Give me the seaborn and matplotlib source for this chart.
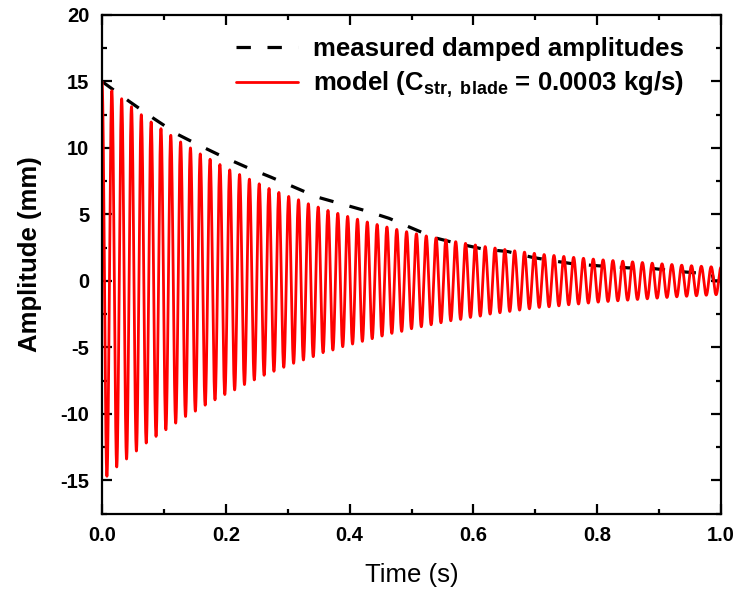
import numpy as np
import matplotlib
matplotlib.use("Agg")
import matplotlib.pyplot as plt
from matplotlib.ticker import MultipleLocator
import seaborn as sns

# ---- data ----
measured_time = [0.0, 0.044, 0.084, 0.123, 0.157, 0.197, 0.236, 0.273, 0.313, 0.348,
                 0.386, 0.424, 0.464, 0.499, 0.537, 0.575, 0.615, 0.656, 0.696, 0.730,
                 0.761, 0.803, 0.850, 0.890, 0.939, 0.979, 0.986, 0.988, 1.0]
measured_amp = [15.0, 13.5, 12.2, 11.0, 10.2, 9.3, 8.5, 7.8, 7.0, 6.3,
                5.8, 5.3, 4.7, 4.0, 3.25, 2.8, 2.4, 2.2, 1.76, 1.5,
                1.28, 1.13, 0.98, 0.93, 0.68, 0.53, 0.5, 0.0, 0.0]

model_cycles_per_s = 63
# peak (positive) amplitude of each model cycle
model_peaks = [15.0, 14.3, 13.7, 13.1, 12.5, 11.95, 11.45, 10.95, 10.45, 10.0,
               9.55, 9.15, 8.75, 8.35, 8.0, 7.65, 7.3, 6.95, 6.65, 6.35,
               6.1, 5.8, 5.55, 5.3, 5.08, 4.85, 4.64, 4.43, 4.24, 4.05,
               3.87, 3.7, 3.54, 3.38, 3.23, 3.09, 2.95, 2.82, 2.7, 2.58,
               2.47, 2.36, 2.26, 2.16, 2.07, 1.98, 1.91, 1.84, 1.77, 1.7,
               1.64, 1.58, 1.53, 1.48, 1.43, 1.38, 1.33, 1.28, 1.23, 1.18,
               1.14, 1.1, 1.06, 1.02]
# trough (negative) magnitude after each peak
model_troughs = [14.7, 14.0, 13.4, 12.8, 12.2, 11.7, 11.2, 10.7, 10.2, 9.8,
                 9.35, 8.95, 8.55, 8.2, 7.8, 7.45, 7.1, 6.8, 6.5, 6.2,
                 5.95, 5.7, 5.4, 5.2, 4.95, 4.75, 4.55, 4.35, 4.15, 3.95,
                 3.8, 3.6, 3.45, 3.3, 3.15, 3.0, 2.9, 2.75, 2.65, 2.5,
                 2.4, 2.3, 2.2, 2.1, 2.0, 1.95, 1.88, 1.8, 1.74, 1.67,
                 1.6, 1.55, 1.5, 1.45, 1.4, 1.35, 1.3, 1.25, 1.2, 1.16,
                 1.12, 1.08, 1.04]

x_ticks = [0.0, 0.2, 0.4, 0.6, 0.8, 1.0]
y_ticks = [-15, -10, -5, 0, 5, 10, 15, 20]

# ---- build smooth model curve through the read extrema ----
ext_vals = []
for k in range(len(model_troughs)):
    ext_vals += [model_peaks[k], -model_troughs[k]]
ext_vals.append(model_peaks[len(model_troughs)])
ext_vals = np.array(ext_vals)
half = 0.5 / model_cycles_per_s
ext_t = np.arange(len(ext_vals)) * half
t = np.linspace(0, ext_t[-1], 8001)
idx = np.minimum((t // half).astype(int), len(ext_vals) - 2)
phase = (t - ext_t[idx]) / half
a = ext_vals[idx]
b = ext_vals[idx + 1]
model_amp = (a + b) / 2 + (a - b) / 2 * np.cos(np.pi * phase)

# ---- style ----
sns.set_theme(style="ticks")
plt.rcParams["font.family"] = ["Liberation Sans", "DejaVu Sans"]
plt.rcParams["font.weight"] = "bold"
plt.rcParams["text.color"] = "black"
plt.rcParams["axes.labelcolor"] = "black"
plt.rcParams["xtick.color"] = "black"
plt.rcParams["ytick.color"] = "black"
plt.rcParams["axes.edgecolor"] = "black"
plt.rcParams["mathtext.fontset"] = "custom"
plt.rcParams["mathtext.rm"] = "Liberation Sans:bold"
plt.rcParams["mathtext.bf"] = "Liberation Sans:bold"
plt.rcParams["mathtext.it"] = "Liberation Sans:bold"

fig = plt.figure(figsize=(7.38, 5.92), dpi=100)
ax = fig.add_axes([102 / 738, 1 - 513.5 / 592, 619 / 738, (513.5 - 15) / 592])

sns.lineplot(x=measured_time, y=measured_amp, ax=ax, color="black",
             linewidth=2.3, estimator=None, sort=False,
             label="measured damped amplitudes")
ax.lines[0].set_dashes([4.5, 5.2])
sns.lineplot(x=t, y=model_amp, ax=ax, color="#ff0000", linewidth=2.0,
             estimator=None, sort=False,
             label=r"model (C$_{\mathregular{str,\ blade}}$ = 0.0003 kg/s)")

ax.set_xlim(0, 1.0)
ax.set_ylim(-17.5, 20)
ax.set_xticks(x_ticks)
ax.set_xticklabels([f"{v:.1f}" for v in x_ticks])
ax.set_yticks(y_ticks)
ax.set_yticklabels([str(v) for v in y_ticks])
ax.xaxis.set_minor_locator(MultipleLocator(0.1))
ax.yaxis.set_minor_locator(MultipleLocator(2.5))
ax.tick_params(which="major", direction="in", length=7, width=1.6,
               top=True, right=True, labelsize=14.5, pad=9, color="black",
               labelcolor="black")
ax.tick_params(which="minor", direction="in", length=3.5, width=1.6,
               top=True, right=True, color="black")
for s in ax.spines.values():
    s.set_linewidth(1.6)
    s.set_color("black")
for lab in ax.get_xticklabels() + ax.get_yticklabels():
    lab.set_fontweight("bold")

ax.set_ylabel("Amplitude (mm)", fontsize=18.5, fontweight="bold", color="black")
ax.yaxis.set_label_coords((42 - 102) / 619, (513.5 - 254) / 498.5)
ax.set_xlabel("Time (s)", fontsize=18.5, fontweight="normal", labelpad=13,
              color="black")

leg = ax.legend(loc="upper left", bbox_to_anchor=(236 / 738, 1 - 37 / 592),
                bbox_transform=fig.transFigure, frameon=False,
                prop={"size": 18.5, "weight": "bold"}, handlelength=2.4,
                handletextpad=0.6, labelspacing=0.35, borderpad=0,
                borderaxespad=0)
for txt in leg.get_texts():
    txt.set_color("black")

fig.savefig("out.png", dpi=100)
